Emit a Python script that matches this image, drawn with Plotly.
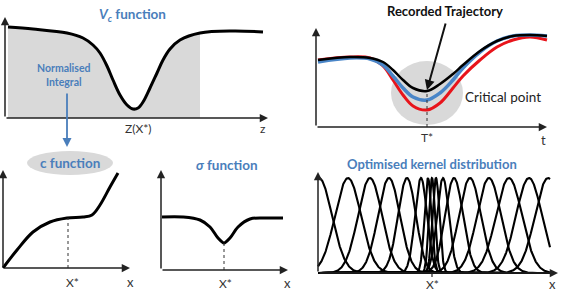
import numpy as np
import plotly.graph_objects as go

W, H = 561, 292
BLUE = "#4a7ebb"
FONT = "Lato"

# ---------------- data ----------------
# Panel 1: V_c function
vc_x = [3, 28, 62, 78, 88, 95, 102, 108, 115, 122, 128, 133, 138, 145, 152, 158, 165, 175, 195, 228, 258]
vc_y = [91, 89, 85, 80, 73, 65, 52, 38, 23, 13, 9, 10, 16, 30, 45, 58, 69, 78, 85, 87, 86]
vc_fill_end = 195
vc_xstar = 133

# Panel 2: trajectories
tr_x = [2, 34, 54, 67, 77, 87, 97, 111, 124, 137, 147, 164, 181, 197, 214, 231]
tr_black = [67, 70, 69, 65, 57, 47, 39, 36, 43, 53, 62, 76, 86, 91, 92, 91]
tr_blue = [65, 69, 68, 62, 51, 39, 30, 27, 34, 47, 59, 75, 86, 91, 92, 91]
tr_red = [67, 70, 69, 61, 47, 32, 21, 17, 24, 39, 51, 67, 80, 87, 90, 87]
t_star = 111

# Panel 3: c function
c_x = [0, 14, 30, 47, 64, 80, 89, 97, 107, 115]
c_y = [0, 18, 36, 46, 50, 51, 53, 63, 81, 95]
c_xstar = 65

# Panel 4: sigma function
s_x = [1, 22, 39, 49, 57, 63, 69, 77, 89, 106, 122]
s_y = [53, 53, 50, 43, 32, 27, 32, 43, 51, 52, 52]
s_xstar = 63

# Panel 5: kernels (centres, widths, peak height)
k_centres = [1, 30, 52, 71, 89, 103, 110, 114, 118, 125, 136, 152, 171, 191, 211, 230]
k_widths = [13, 13, 12, 11, 9, 6, 3.5, 3, 3.5, 6, 9, 11, 12, 13, 13, 13]
k_peak = 95
k_xmax = 232
k_xstar = 114

# ---------------- layout helpers ----------------
panels = {
    1: dict(origin=(5, 118), box=(0, 0, 280, 140)),
    2: dict(origin=(316, 127), box=(285, 0, 561, 150)),
    3: dict(origin=(3, 268), box=(0, 140, 145, 292)),
    4: dict(origin=(161, 270), box=(150, 140, 296, 292)),
    5: dict(origin=(318, 273), box=(300, 150, 561, 292)),
}

fig = go.Figure()
lay = dict(width=W, height=H, margin=dict(l=0, r=0, t=0, b=0),
           paper_bgcolor="white", plot_bgcolor="rgba(0,0,0,0)", showlegend=False,
           font=dict(family=FONT, color="#222"))
for i, p in panels.items():
    ox, oy = p["origin"]
    x0, y0, x1, y1 = p["box"]
    sfx = "" if i == 1 else str(i)
    lay["xaxis" + sfx] = dict(domain=[x0 / W, x1 / W], range=[x0 - ox, x1 - ox], visible=False,
                              fixedrange=True, anchor="y" + sfx)
    lay["yaxis" + sfx] = dict(domain=[1 - y1 / H, 1 - y0 / H], range=[oy - y1, oy - y0], visible=False,
                              fixedrange=True, anchor="x" + sfx)
fig.update_layout(**lay)

def ax(i):
    s = "" if i == 1 else str(i)
    return "x" + s, "y" + s

annotations = []
shapes = []

def axes_arrows(i, xend, ytop):
    xr, yr = ax(i)
    for (x, y) in [(xend, 0), (0, ytop)]:
        annotations.append(dict(x=x, y=y, ax=0, ay=0, xref=xr, yref=yr, axref=xr, ayref=yr,
                                showarrow=True, arrowhead=2, arrowsize=1.1, arrowwidth=1.5,
                                arrowcolor="#222", text=""))

def label(i, x, y, text, size=12, color="#333", bold=False):
    xr, yr = ax(i)
    t = f"<b>{text}</b>" if bold else text
    annotations.append(dict(x=x, y=y, xref=xr, yref=yr, text=t, showarrow=False,
                            font=dict(size=size, color=color, family=FONT)))

def vdash(i, x, ytop):
    xr, yr = ax(i)
    shapes.append(dict(type="line", xref=xr, yref=yr, x0=x, x1=x, y0=0, y1=ytop,
                       line=dict(color="#333", width=1, dash="dot")))

# ---- Panel 1 ----
xr, yr = ax(1)
fx = [x for x in vc_x if x <= vc_fill_end]
fy = vc_y[:len(fx)]
fig.add_trace(go.Scatter(x=fx, y=fy, mode="lines", line=dict(width=0, shape="spline"),
                         fill="tozeroy", fillcolor="#d9d9d9", xaxis=xr, yaxis=yr, hoverinfo="skip"))
fig.add_trace(go.Scatter(x=vc_x, y=vc_y, mode="lines", line=dict(color="black", width=3, shape="spline"),
                         xaxis=xr, yaxis=yr, cliponaxis=False))
axes_arrows(1, 263, 101)
label(1, vc_xstar, -10, "Z(X*)", 12)
label(1, 258, -10, "z", 12)
label(1, 127, 103, "<i>V<sub>c</sub></i> function", 13.5, BLUE, bold=True)
label(1, 58, 43, "Normalised<br>Integral", 10.5, BLUE, bold=True)
annotations.append(dict(x=67 / W, y=1 - 147 / H, ax=0, ay=-55, xref="paper", yref="paper",
                        showarrow=True, arrowhead=2, arrowsize=1,
                        arrowwidth=1.8, arrowcolor=BLUE, text=""))

# ---- Panel 2 ----
xr, yr = ax(2)
shapes.append(dict(type="circle", xref=xr, yref=yr, x0=75, x1=147, y0=2, y1=66,
                   fillcolor="#d9d9d9", line=dict(width=0), layer="below"))
for ys, col, w in [(tr_red, "#e8141b", 3), (tr_blue, "#4a86c8", 3.5), (tr_black, "black", 2.5)]:
    fig.add_trace(go.Scatter(x=tr_x, y=ys, mode="lines", line=dict(color=col, width=w, shape="spline"),
                             xaxis=xr, yaxis=yr, cliponaxis=False))
vdash(2, t_star, 36)
axes_arrows(2, 231, 99)
label(2, t_star, -10, "T*", 12)
label(2, 227, -13, "t", 13)
label(2, 187, 30, "Critical point", 13.5, "#222")
label(2, 129, 116, "Recorded Trajectory", 13, "#111", bold=True)
annotations.append(dict(x=t_star, y=37, ax=130, ay=105, xref=xr, yref=yr, axref=xr, ayref=yr,
                        showarrow=True, arrowhead=2, arrowsize=1, arrowwidth=2, arrowcolor="#111", text=""))

# ---- Panel 3 ----
xr, yr = ax(3)
shapes.append(dict(type="circle", xref=xr, yref=yr, x0=24, x1=110, y0=93, y1=117,
                   fillcolor="#d9d9d9", line=dict(width=0), layer="below"))
fig.add_trace(go.Scatter(x=c_x, y=c_y, mode="lines", line=dict(color="black", width=3, shape="spline"),
                         xaxis=xr, yaxis=yr, cliponaxis=False))
vdash(3, c_xstar, 50)
axes_arrows(3, 127, 98)
label(3, 67, 105, "c function", 13.5, BLUE, bold=True)
label(3, 69, -14, "X*", 12)
label(3, 127, -14, "x", 13)

# ---- Panel 4 ----
xr, yr = ax(4)
fig.add_trace(go.Scatter(x=s_x, y=s_y, mode="lines", line=dict(color="black", width=3, shape="spline"),
                         xaxis=xr, yaxis=yr, cliponaxis=False))
vdash(4, s_xstar, 27)
axes_arrows(4, 127, 100)
label(4, 66, 105, "<i>σ</i> function", 13.5, BLUE, bold=True)
label(4, 64, -13, "X*", 12)
label(4, 126, -13, "x", 13)

# ---- Panel 5 ----
xr, yr = ax(5)
xs = np.linspace(0, k_xmax, 600)
for c, s in zip(k_centres, k_widths):
    ys = k_peak * np.exp(-0.5 * ((xs - c) / s) ** 2)
    fig.add_trace(go.Scatter(x=xs, y=ys, mode="lines", line=dict(color="black", width=2.1),
                             xaxis=xr, yaxis=yr, cliponaxis=False))
shapes.append(dict(type="line", xref=xr, yref=yr, x0=k_xstar, x1=k_xstar, y0=0, y1=-4,
                   line=dict(color="#222", width=1.2)))
axes_arrows(5, 240, 101)
label(5, k_xstar, 109, "Optimised kernel distribution", 13, BLUE, bold=True)
label(5, k_xstar, -11, "X*", 12)
label(5, 234, -11, "x", 13)

fig.update_layout(annotations=annotations, shapes=shapes)
fig.write_html("out.html", config={"displayModeBar": False},
               post_script="document.body.style.margin='0';document.body.style.overflow='hidden';")
